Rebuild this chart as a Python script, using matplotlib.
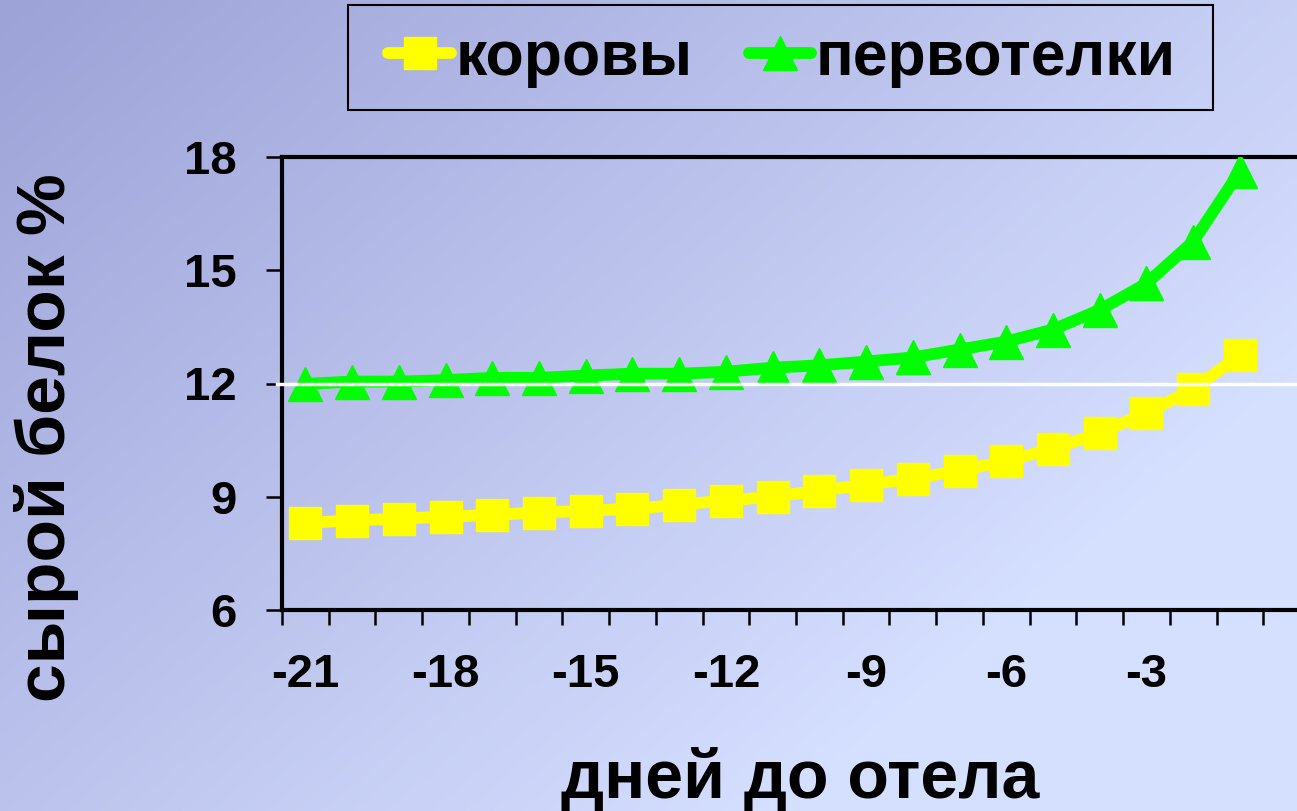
import numpy as np
import matplotlib
matplotlib.use('Agg')
import matplotlib.pyplot as plt
from matplotlib.patches import Rectangle

plt.rcParams['font.family'] = ['Liberation Sans', 'DejaVu Sans']
plt.rcParams['font.weight'] = 'bold'

# days before calving and crude protein, %
days = [-21, -20, -19, -18, -17, -16, -15, -14, -13, -12, -11,
        -10, -9, -8, -7, -6, -5, -4, -3, -2, -1]
cows = [8.31, 8.37, 8.42, 8.47, 8.52, 8.58, 8.63, 8.68, 8.79, 8.90, 9.00,
        9.16, 9.32, 9.48, 9.69, 9.95, 10.27, 10.69, 11.22, 11.85, 12.75]
heifers = [11.99, 12.05, 12.05, 12.09, 12.15, 12.15, 12.21, 12.26, 12.26, 12.31, 12.42,
           12.48, 12.58, 12.69, 12.90, 13.11, 13.43, 13.95, 14.65, 15.76, 17.62]
series_names = ['коровы', 'первотелки']
xtick_days = [-21, -18, -15, -12, -9, -6, -3]
yticks = [6, 9, 12, 15, 18]
ref_level = 12

W, H = 1297, 811
fig = plt.figure(figsize=(W / 100, H / 100), dpi=100)

# diagonal blue wash behind everything
yy, xx = np.mgrid[0:1:200j, 0:1:320j]
t = np.clip(0.75 * xx + 0.55 * yy, 0, 1)[..., None]
c0 = np.array([157, 162, 215]) / 255
c1 = np.array([213, 223, 255]) / 255
bg = fig.add_axes([0, 0, 1, 1], zorder=-10)
bg.imshow(c0 + (c1 - c0) * t, aspect='auto')
bg.axis('off')

ax = fig.add_axes([282 / W, (H - 610) / H, 1028 / W, 453 / H])
ax.set_facecolor('none')

l1, = ax.plot(days, cows, color='#ffff00', lw=8.5, marker='s', ms=23,
              mec='#ffff00', solid_capstyle='round', zorder=3)
l2, = ax.plot(days, heifers, color='#00ff00', lw=8.5, marker='^', ms=24,
              mec='#00ff00', solid_capstyle='round', zorder=3)
ax.axhline(ref_level, xmin=-0.005, color='white', lw=2.5, zorder=4, clip_on=False)

ax.set_xlim(-21.5, 0.5)
ax.set_ylim(6, 18)

# category boundaries carry the tick marks, labels sit on every third day
ax.set_xticks(np.arange(-21.5, 1, 1))
ax.set_xticks(xtick_days, minor=True)
ax.set_xticklabels([str(d) for d in xtick_days], minor=True)
ax.tick_params(axis='x', which='major', direction='out', length=11, width=1.8,
               labelbottom=False)
ax.tick_params(axis='x', which='minor', length=0, pad=31, labelsize=34)
ax.set_yticks(yticks)
ax.tick_params(axis='y', direction='out', length=11.5, width=1.8, pad=21, labelsize=34)

for side in ['left', 'bottom', 'top']:
    ax.spines[side].set_linewidth(3)
ax.spines['right'].set_visible(False)

fig.text(800 / W, 14 / H, 'дней до отела', ha='center', va='baseline',
         fontsize=49, fontweight='bold')
fig.text(47 / W, 1 - 438 / H, 'сырой белок %', rotation=90, ha='center',
         va='center', fontsize=50, fontweight='bold')

fig.patches.append(Rectangle((348 / W, 1 - 110 / H), 865 / W, 105 / H,
                             transform=fig.transFigure, fill=False,
                             ec='black', lw=1.5))
fig.legend([l1, l2], series_names, loc='center', bbox_to_anchor=(782 / W, 1 - 58 / H),
           ncol=2, frameon=False, numpoints=1, handlelength=1.0,
           handletextpad=0.07, columnspacing=0.9,
           prop={'size': 45, 'weight': 'bold'})

fig.savefig('out.png', dpi=100)
